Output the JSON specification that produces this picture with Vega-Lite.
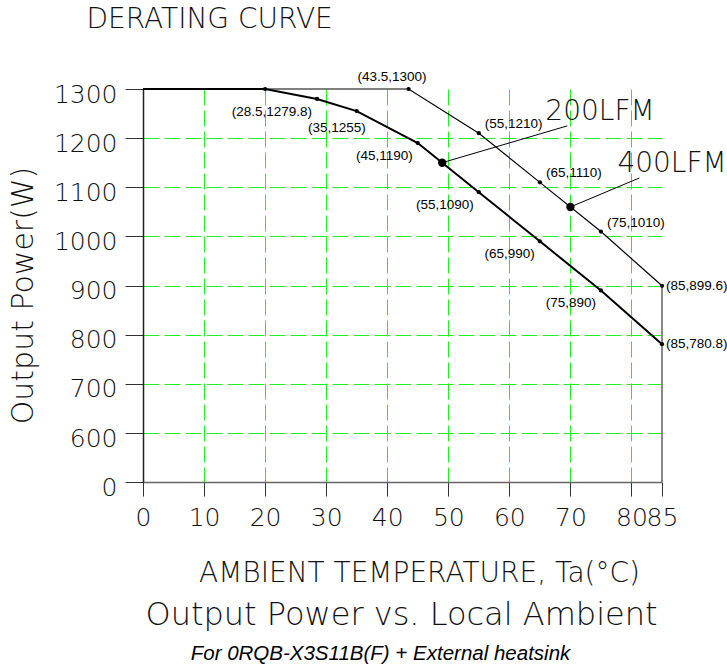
{
  "$schema": "https://vega.github.io/schema/vega-lite/v6.json",
  "width": 519,
  "height": 393,
  "autosize": {"type": "none"},
  "padding": {"left": 143, "top": 89, "right": 65, "bottom": 186},
  "background": "white",
  "config": {"view": {"stroke": null}, "font": "DejaVu Sans"},
  "datasets": {
    "curves": [
      {"series": "200LFM", "t": 0, "p": 1300},
      {"series": "200LFM", "t": 20, "p": 1300},
      {"series": "200LFM", "t": 28.5, "p": 1279.8},
      {"series": "200LFM", "t": 35, "p": 1255},
      {"series": "200LFM", "t": 45, "p": 1190},
      {"series": "200LFM", "t": 55, "p": 1090},
      {"series": "200LFM", "t": 65, "p": 990},
      {"series": "200LFM", "t": 75, "p": 890},
      {"series": "200LFM", "t": 85, "p": 780.8},
      {"series": "400LFM", "t": 0, "p": 1300},
      {"series": "400LFM", "t": 43.5, "p": 1300},
      {"series": "400LFM", "t": 55, "p": 1210},
      {"series": "400LFM", "t": 65, "p": 1110},
      {"series": "400LFM", "t": 75, "p": 1010},
      {"series": "400LFM", "t": 85, "p": 899.6}
    ],
    "callouts": [
      {"name": "200LFM", "t": 49, "p": 1150, "tx": 69.5, "px": 1225},
      {"name": "400LFM", "t": 70, "p": 1060, "tx": 81.3, "px": 1119}
    ]
  },
  "resolve": {"axis": {"x": "independent", "y": "independent"}},
  "encoding": {
    "x": {"field": "t", "type": "quantitative", "scale": {"domain": [0, 85], "nice": false, "zero": false}, "axis": null},
    "y": {"field": "p", "type": "quantitative", "scale": {"domain": [0, 600, 1300], "range": [393, 344, 0], "nice": false, "zero": false}, "axis": null}
  },
  "layer": [
    {
      "data": {"name": "curves"},
      "mark": {"type": "line", "color": "black"},
      "encoding": {
        "x": {
          "field": "t", "type": "quantitative",
          "scale": {"domain": [0, 85], "nice": false, "zero": false},
          "axis": {
            "orient": "bottom",
            "values": [0, 10, 20, 30, 40, 50, 60, 70, 80, 85],
            "format": "d",
            "title": "AMBIENT TEMPERATURE, Ta(°C)",
            "titleFont": "DejaVu Sans", "titleFontWeight": 200, "titleFontSize": 28, "titleColor": "#111",
            "titleX": 276, "titleY": 99, "titleAlign": "center", "titleBaseline": "alphabetic",
            "labelFont": "DejaVu Sans", "labelFontSize": 25, "labelFontWeight": 200, "labelColor": "#111",
            "labelBaseline": "alphabetic", "labelPadding": 29, "labelOverlap": false, "labelFlush": false, "labelBound": false,
            "tickSize": 14, "tickColor": "#333", "tickWidth": 1,
            "domainColor": "#666", "domainWidth": 1.5,
            "grid": true, "gridColor": "#22ee22", "gridDash": [16, 5], "gridWidth": 1,
            "gridOpacity": {"condition": {"test": "datum.value === 0 || datum.value === 85", "value": 0}, "value": 1}
          }
        },
        "y": {
          "field": "p", "type": "quantitative",
          "scale": {"domain": [0, 600, 1300], "range": [393, 344, 0], "nice": false, "zero": false},
          "axis": {
            "orient": "left",
            "values": [0, 600, 700, 800, 900, 1000, 1100, 1200, 1300],
            "format": "d",
            "title": "Output Power(W)",
            "titleFont": "DejaVu Sans", "titleFontWeight": 200, "titleFontSize": 30, "titleColor": "#111",
            "titleX": -120, "titleY": 206, "titleAngle": 270, "titleAlign": "center", "titleBaseline": "middle",
            "labelFont": "DejaVu Sans", "labelFontSize": 25, "labelFontWeight": 200, "labelColor": "#111",
            "labelPadding": 8, "labelBaseline": "alphabetic", "labelOffset": 13,
            "labelOverlap": false, "labelFlush": false, "labelBound": false,
            "tickSize": 18, "tickColor": "#333", "tickWidth": 1,
            "domainColor": "#222", "domainWidth": 1.5,
            "grid": true, "gridColor": "#22ee22", "gridDash": [16, 5], "gridWidth": 1,
            "gridOpacity": {"condition": {"test": "datum.value === 0 || datum.value === 1300", "value": 0}, "value": 1}
          }
        },
        "strokeWidth": {"field": "series", "type": "nominal", "scale": {"domain": ["200LFM", "400LFM"], "range": [2, 1.2]}, "legend": null}
      }
    },
    {
      "data": {"name": "curves"},
      "transform": [{"filter": "datum.series === '400LFM' && datum.t === 85"}],
      "mark": {"type": "rule", "color": "#888", "strokeWidth": 2},
      "encoding": {"y2": {"datum": 0}}
    },
    {
      "data": {"name": "curves"},
      "transform": [{"filter": "datum.t > 0"}],
      "mark": {"type": "point", "filled": true, "color": "black", "size": 18, "opacity": 1},
      "encoding": {
        "x": {
          "field": "t", "type": "quantitative",
          "scale": {"domain": [0, 85], "nice": false, "zero": false},
          "axis": {
            "orient": "bottom", "labels": false, "ticks": false, "domain": false, "grid": false,
            "title": "Output Power vs. Local Ambient",
            "titleFont": "DejaVu Sans", "titleFontWeight": 200, "titleFontSize": 32, "titleColor": "#111",
            "titleX": 258, "titleY": 142, "titleAlign": "center", "titleBaseline": "alphabetic"
          }
        }
      }
    },
    {
      "data": {"name": "curves"},
      "transform": [
        {"filter": "datum.series === '200LFM' && datum.t > 20 && datum.t < 85 && datum.t !== 35"},
        {"calculate": "'(' + datum.t + ',' + datum.p + ')'", "as": "label"}
      ],
      "mark": {"type": "text", "font": "Liberation Sans", "fontSize": 13.5, "color": "black", "align": "right", "baseline": "alphabetic", "dx": -5, "dy": 17},
      "encoding": {
        "text": {"field": "label"},
        "x": {
          "field": "t", "type": "quantitative",
          "scale": {"domain": [0, 85], "nice": false, "zero": false},
          "axis": {
            "orient": "bottom", "labels": false, "ticks": false, "domain": false, "grid": false,
            "title": "For 0RQB-X3S11B(F) + External heatsink",
            "titleFont": "Liberation Sans", "titleFontStyle": "italic", "titleFontWeight": "normal", "titleFontSize": 20.5, "titleColor": "black",
            "titleX": 237, "titleY": 177, "titleAlign": "center", "titleBaseline": "alphabetic"
          }
        }
      }
    },
    {
      "data": {"name": "curves"},
      "transform": [
        {"filter": "datum.series === '200LFM' && datum.t === 35"},
        {"calculate": "'(' + datum.t + ',' + datum.p + ')'", "as": "label"}
      ],
      "mark": {"type": "text", "font": "Liberation Sans", "fontSize": 13.5, "color": "black", "align": "right", "baseline": "alphabetic", "dx": 9, "dy": 21},
      "encoding": {"text": {"field": "label"}}
    },
    {
      "data": {"name": "curves"},
      "transform": [
        {"filter": "datum.series === '400LFM' && datum.t > 50 && datum.t < 85"},
        {"calculate": "'(' + datum.t + ',' + datum.p + ')'", "as": "label"}
      ],
      "mark": {"type": "text", "font": "Liberation Sans", "fontSize": 13.5, "color": "black", "align": "left", "baseline": "alphabetic", "dx": 6, "dy": -5},
      "encoding": {"text": {"field": "label"}}
    },
    {
      "data": {"name": "curves"},
      "transform": [
        {"filter": "datum.t === 85"},
        {"calculate": "'(' + datum.t + ',' + datum.p + ')'", "as": "label"}
      ],
      "mark": {"type": "text", "font": "Liberation Sans", "fontSize": 13.5, "color": "black", "align": "left", "baseline": "middle", "dx": 4, "dy": 0},
      "encoding": {"text": {"field": "label"}}
    },
    {
      "data": {"name": "curves"},
      "transform": [
        {"filter": "datum.series === '400LFM' && datum.t === 43.5"},
        {"calculate": "'(' + datum.t + ',' + datum.p + ')'", "as": "label"}
      ],
      "mark": {"type": "text", "font": "Liberation Sans", "fontSize": 13.5, "color": "black", "align": "right", "baseline": "alphabetic", "dx": 18, "dy": -8},
      "encoding": {"text": {"field": "label"}}
    },
    {
      "data": {"name": "callouts"},
      "mark": {"type": "rule", "color": "black", "strokeWidth": 1},
      "encoding": {
        "x2": {"field": "tx"},
        "y2": {"field": "px"}
      }
    },
    {
      "data": {"name": "callouts"},
      "mark": {"type": "point", "filled": true, "color": "black", "size": 70, "opacity": 1},
      "encoding": {}
    },
    {
      "data": {"name": "callouts"},
      "mark": {"type": "text", "font": "DejaVu Sans", "fontWeight": 200, "fontSize": 28, "color": "#111", "align": "left", "baseline": "alphabetic", "dx": -22, "dy": -6},
      "encoding": {
        "text": {"field": "name"},
        "x": {
          "field": "tx", "type": "quantitative",
          "scale": {"domain": [0, 85], "nice": false, "zero": false},
          "axis": {
            "orient": "top", "labels": false, "ticks": false, "domain": false, "grid": false,
            "title": "DERATING CURVE",
            "titleFont": "DejaVu Sans", "titleFontWeight": 200, "titleFontSize": 28, "titleColor": "#111",
            "titleX": -57, "titleY": -62, "titleAlign": "left", "titleBaseline": "alphabetic"
          }
        },
        "y": {"field": "px", "type": "quantitative", "scale": {"domain": [0, 600, 1300], "range": [393, 344, 0], "nice": false, "zero": false}, "axis": null}
      }
    }
  ]
}
